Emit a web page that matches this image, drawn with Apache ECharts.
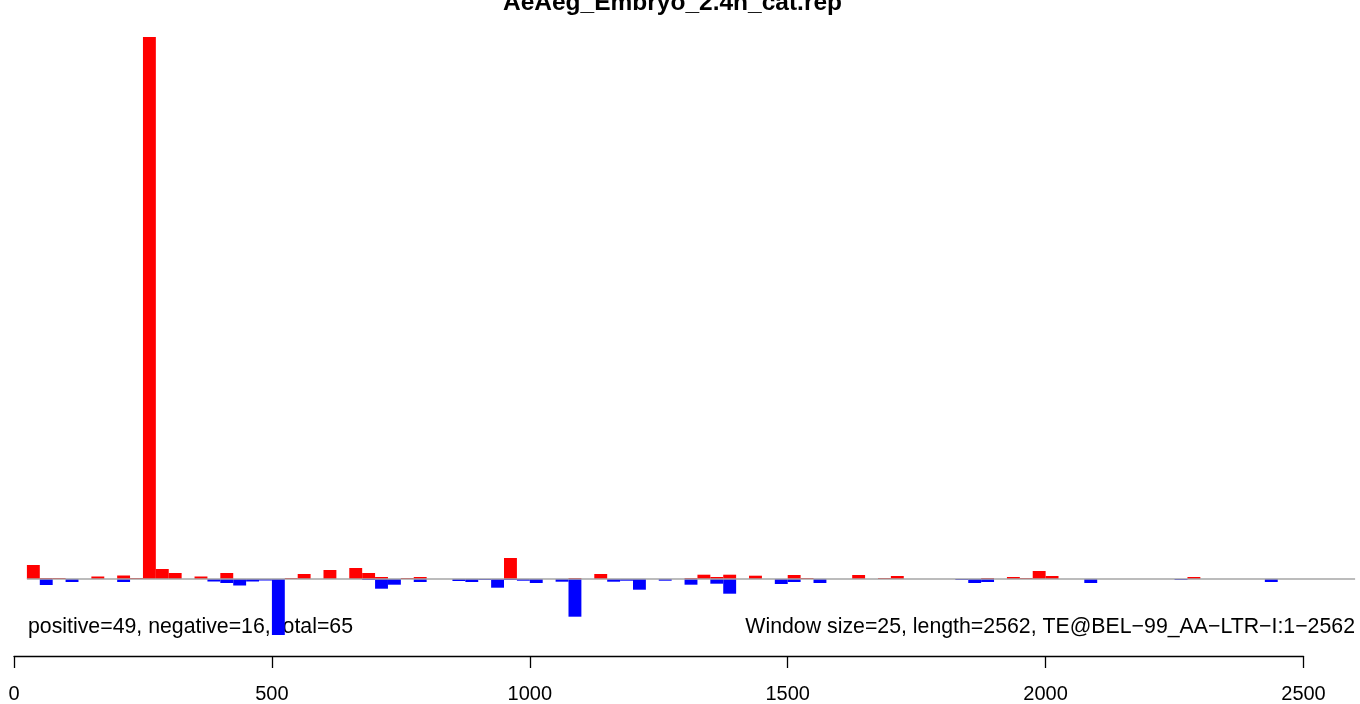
<!DOCTYPE html>
<html>
<head>
<meta charset="utf-8">
<script src="https://cdn.jsdelivr.net/npm/echarts@6/dist/echarts.min.js"></script>
<style>
html,body{margin:0;padding:0;background:#fff;}
#chart{width:1360px;height:704px;}
</style>
</head>
<body>
<div id="chart"></div>
<script>
const titleText = 'AeAeg_Embryo_2.4h_cat.rep';
const leftNote = 'positive=49, negative=16, total=65';
const rightNote = 'Window size=25, length=2562, TE@BEL\u221299_AA\u2212LTR\u2212I:1\u22122562';
const windowSize = 25;

const posStarts = [25,50,75,150,200,225,250,275,300,350,400,525,550,600,650,675,700,750,775,950,1075,1125,1300,1325,1350,1375,1425,1500,1525,1625,1675,1700,1875,1925,1950,1975,2000,2275];
const posValues = [14,1,1,2.5,3.5,1,542,10,6,2.5,6,1,5,9,11,6,2,1,2,21,1,5,1,4.3,2,4.3,3.3,4,1,4,1,3,1,2,1,8,3,2];

const negStarts = [50,100,200,375,400,425,450,475,500,675,700,725,775,850,875,900,925,950,975,1000,1050,1075,1150,1175,1200,1250,1300,1350,1375,1475,1500,1550,1825,1850,1875,2075,2250,2425];
const negValues = [6,3,3,2.5,4,6.5,2.5,1.5,56,1,9.7,5.7,3,2,3,1,8.7,1,1.7,4,2.7,37.7,2.7,1.7,10.7,1.7,5.7,4.7,14.7,5,3,4,1,4,3,4,1,3];

const axisTicks = [0, 500, 1000, 1500, 2000, 2500];

const posData = posStarts.map((s, i) => [s, posValues[i]]);
const negData = negStarts.map((s, i) => [s, -negValues[i]]);

function barRenderer(color) {
  return function (params, api) {
    const s = api.value(0);
    const v = api.value(1);
    const p0 = api.coord([s, 0]);
    const p1 = api.coord([s + windowSize, v]);
    return {
      type: 'rect',
      shape: { x: p0[0], y: Math.min(p0[1], p1[1]), width: p1[0] - p0[0], height: Math.abs(p1[1] - p0[1]) },
      style: { fill: color }
    };
  };
}

const chart = echarts.init(document.getElementById('chart'), null, { renderer: 'canvas' });
chart.setOption({
  animation: false,
  backgroundColor: '#ffffff',
  grid: [
    { left: 26.9, width: 1328.2, top: 37, height: 620 },
    { left: 14, width: 1289.5, top: 601, height: 57 }
  ],
  xAxis: [
    { type: 'value', gridIndex: 0, min: 25, max: 2600, show: false },
    {
      type: 'value', gridIndex: 1, min: 0, max: 2500, interval: 500,
      axisLine: { show: true, lineStyle: { color: '#000', width: 1.3 } },
      axisTick: { show: true, length: 12, lineStyle: { color: '#000', width: 1.3 } },
      axisLabel: {
        margin: 28, color: '#000', fontSize: 20, fontFamily: 'Liberation Sans, Arial, sans-serif',
        showMinLabel: true, showMaxLabel: true,
        formatter: v => axisTicks.includes(v) ? String(v) : ''
      },
      splitLine: { show: false }
    }
  ],
  yAxis: [
    { type: 'value', gridIndex: 0, min: -78, max: 542, show: false, splitLine: { show: false } },
    { type: 'value', gridIndex: 1, min: 0, max: 1, show: false, splitLine: { show: false } }
  ],
  series: [
    {
      type: 'custom', xAxisIndex: 0, yAxisIndex: 0,
      renderItem: barRenderer('#FF0000'),
      data: posData, z: 2
    },
    {
      type: 'custom', xAxisIndex: 0, yAxisIndex: 0,
      renderItem: barRenderer('#0000FF'),
      data: negData, z: 3,
      markLine: {
        silent: true, symbol: ['none', 'none'], z: 10,
        label: { show: false },
        lineStyle: { color: '#A6A6A6', width: 1.5, type: 'solid' },
        data: [{ yAxis: 0 }]
      }
    }
  ],
  graphic: [
    {
      type: 'text', x: 672.5, y: 3.6,
      style: { text: titleText, textAlign: 'center', textVerticalAlign: 'middle',
        font: 'bold 24.5px "Liberation Sans", Arial, sans-serif', fill: '#000' }
    },
    {
      type: 'text', x: 28, y: 627.5,
      style: { text: leftNote, textAlign: 'left', textVerticalAlign: 'middle',
        font: '21.3px "Liberation Sans", Arial, sans-serif', fill: '#000' }
    },
    {
      type: 'text', x: 1355, y: 627.5,
      style: { text: rightNote, textAlign: 'right', textVerticalAlign: 'middle',
        font: '21.3px "Liberation Sans", Arial, sans-serif', fill: '#000' }
    }
  ]
});
</script>
</body>
</html>
